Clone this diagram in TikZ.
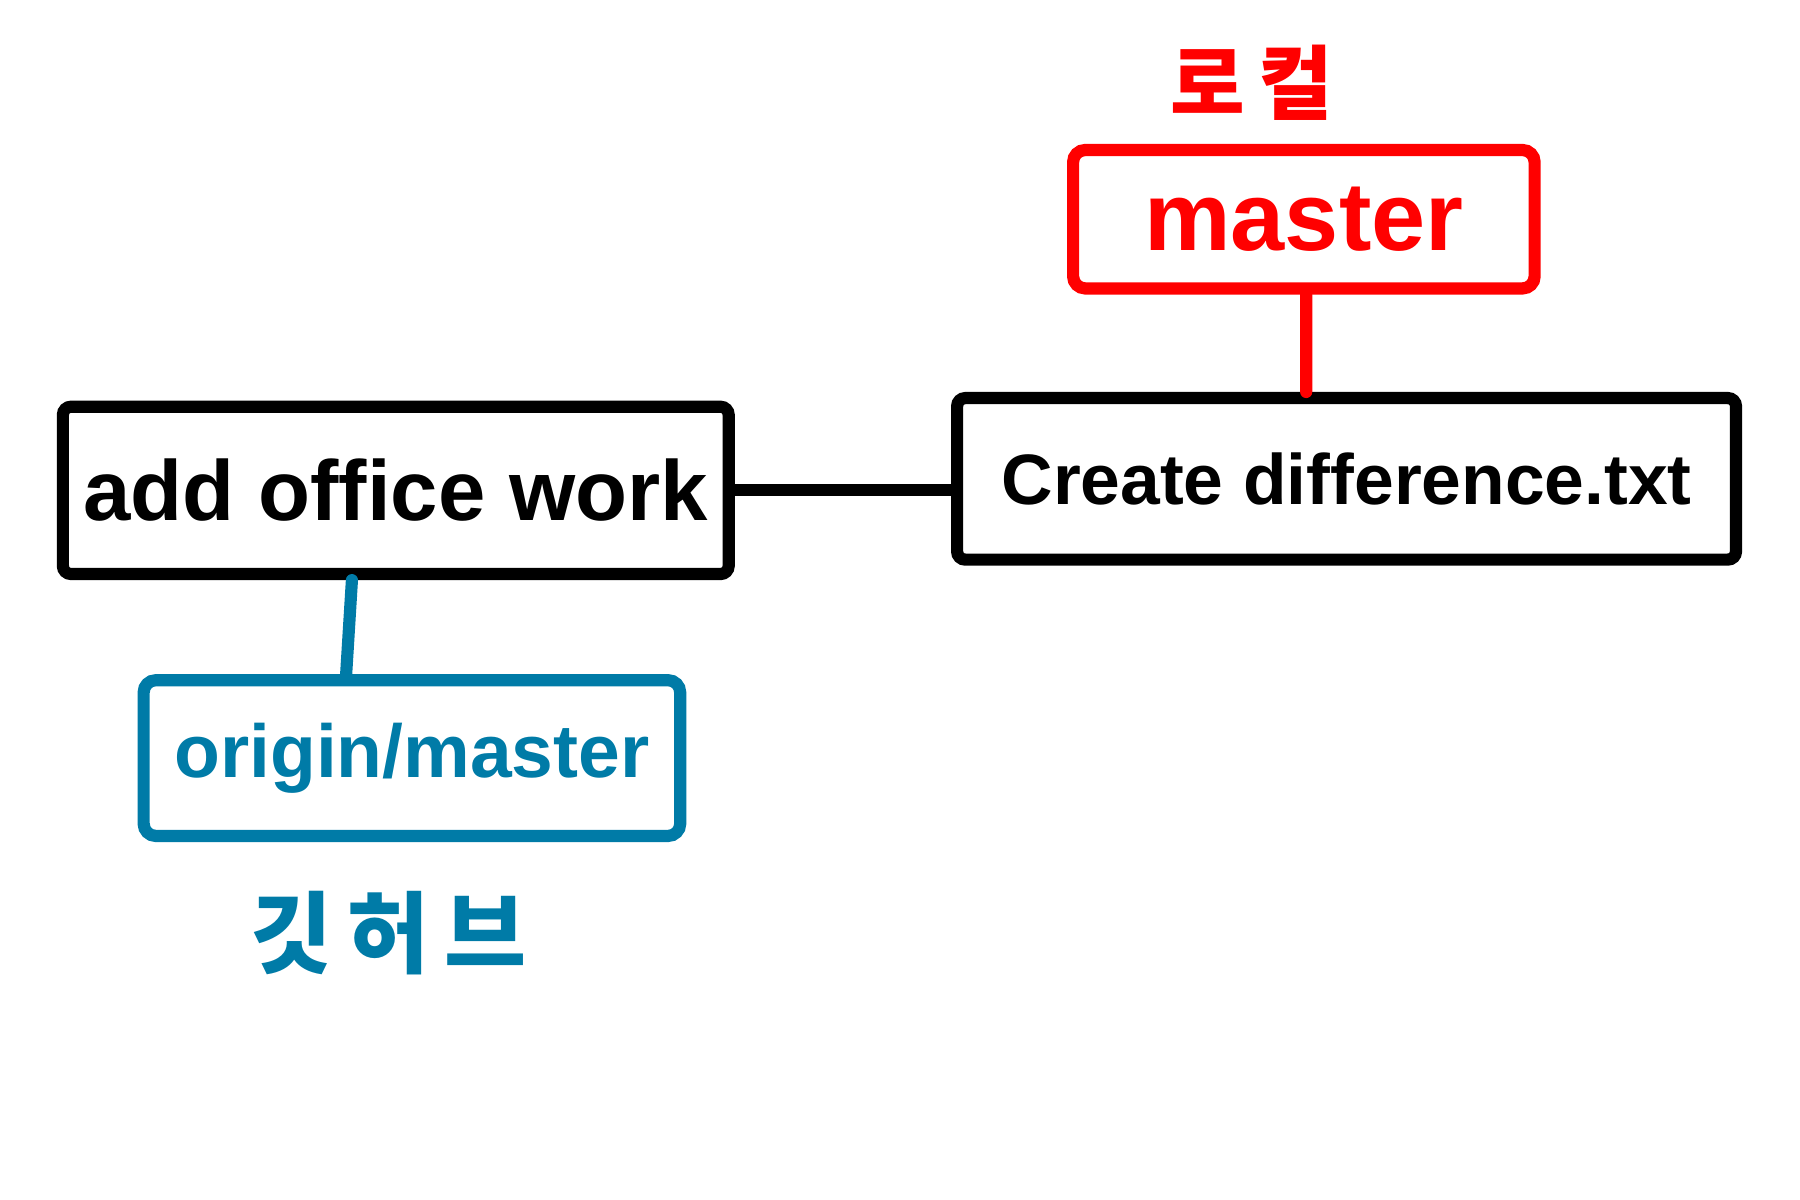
\documentclass[tikz,border=0pt]{standalone}
\usepackage{fontspec}
\setmainfont{Liberation Sans}
\newfontfamily\korfont{Noto Sans CJK KR}
\usepackage{tikz}
\usetikzlibrary{positioning,calc}

\definecolor{hubblue}{RGB}{0,123,167}
\definecolor{localred}{RGB}{255,0,0}

\tikzset{
    commitbox/.style={draw=black, line width=3pt, rounded corners=2pt, line cap=round,
        inner sep=0pt, font=\bfseries},
    branchbox/.style={line width=3pt, rounded corners=3pt, line cap=round,
        inner sep=0pt, font=\bfseries},
    link/.style={line width=3pt, line cap=round}
}

\begin{document}
        \begin{tikzpicture}
            \useasboundingbox (0,0) rectangle (15.6,-10.4);
            % commits
            \node[commitbox, minimum width=5.77cm, minimum height=1.45cm,
                font=\bfseries\fontsize{21}{24}\selectfont] (addwork) at (3.43,-4.25) {add office work};
            \node[commitbox, minimum width=6.75cm, minimum height=1.4cm,
                font=\bfseries\fontsize{17.6}{20}\selectfont] (creatediff) at (11.67,-4.15) {Create difference.txt};
            % branches
            \node[branchbox, draw=localred, text=localred, minimum width=4cm, minimum height=1.2cm,
                font=\bfseries\fontsize{24}{28}\selectfont] (localmaster) at (11.3,-1.9) {master};
            \node[branchbox, draw=hubblue, text=hubblue, minimum width=4.65cm, minimum height=1.35cm,
                font=\bfseries\fontsize{18.5}{22}\selectfont] (originmaster) at (3.57,-6.57) {origin/master};
            % labels
            \node[text=localred, font=\korfont\bfseries\fontsize{20}{26}\selectfont,
                above=0.08cm of localmaster, xshift=-0.45cm] (locallabel) {로\,컬};
            \node[text=hubblue, font=\korfont\bfseries\fontsize{22}{28}\selectfont,
                below=0.3cm of originmaster, xshift=-0.2cm] (hublabel) {깃\,허\,브};
            % links
            \draw[link] (addwork.east) -- (creatediff.west |- addwork.east);
            \draw[link, localred] ([xshift=0.02cm]localmaster.south) -- ([xshift=-0.35cm]creatediff.north);
            \draw[link, hubblue] ([xshift=-0.38cm]addwork.south) -- ([xshift=-0.57cm]originmaster.north);
        \end{tikzpicture}
\end{document}
